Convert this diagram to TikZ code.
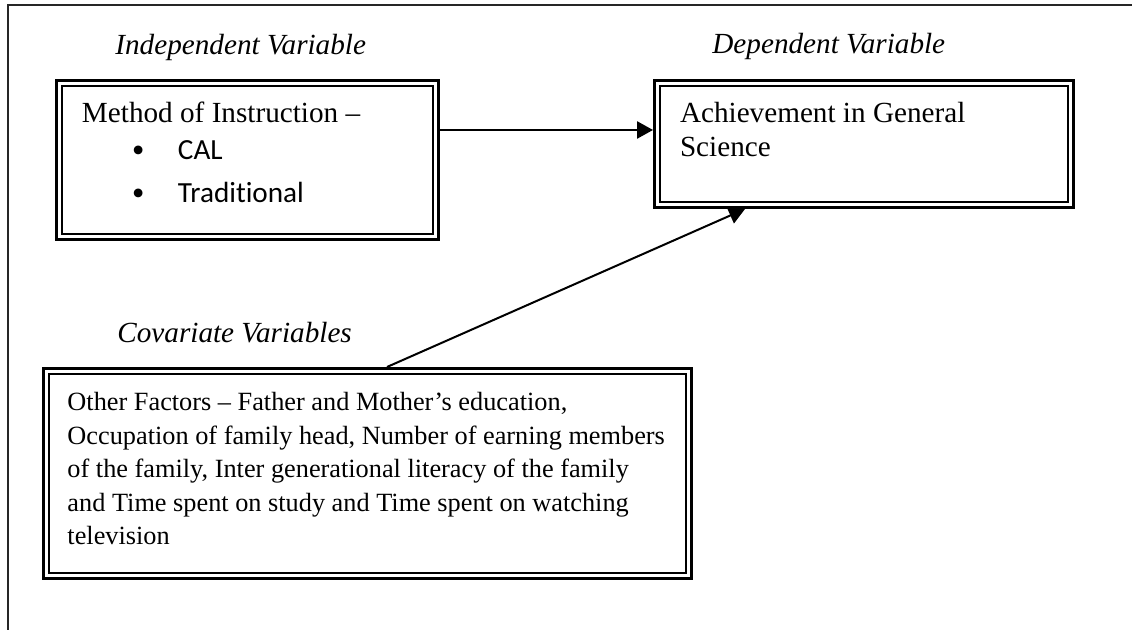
\documentclass[tikz,border=0pt]{standalone}
\usepackage{fontspec}
\setmainfont{Liberation Serif}
\newfontfamily\calfont{Carlito}[Ligatures={NoCommon}]
\usetikzlibrary{arrows.meta}

% top-aligned text block of fixed size inside a box
\newcommand{\topbox}[3]{\parbox[c][#2][t]{#1}{\raggedright #3}}
\newcommand{\bul}{\hspace*{25pt}\makebox[23pt][l]{\rmfamily\raisebox{-1.6pt}{\scalebox{1.25}{•}}}}

\begin{document}
\begin{tikzpicture}[x=0.5pt,y=-0.5pt]
            \tikzstyle{box}=[draw=black, line width=1.3pt, double, double distance=1.5pt, outer sep=2.05pt, inner xsep=11.45pt, inner ysep=9.45pt, font=\fontsize{14.6}{18.5}\selectfont]
            \tikzstyle{heading}=[anchor=base west, inner sep=0pt, font=\fontsize{14.6}{17}\selectfont\itshape]
            \tikzstyle{edge}=[black, line width=1pt, -{Triangle[length=8pt, width=8.6pt]}]

            \useasboundingbox (0,0) rectangle (1132,630);
            \draw[line width=0.6pt, black!85] (1132,5) -- (8,5) -- (8,630);

            \node[heading] (indep) at (115,55) {Independent Variable};
            \node[heading] (dep) at (712,54) {Dependent Variable};
            \node[heading] (cov) at (117,343) {Covariate Variables};

            \node[box] (meth) at (247.5,160) {\topbox{165.5pt}{58pt}{Method of Instruction –\\
                {\calfont\bul CAL}\\[3pt]
                {\calfont\bul Traditional}}};
            \node[box] (ach) at (864,144) {\topbox{184pt}{42pt}{Achievement in General\\[-1.3pt] Science}};
            \node[box, inner xsep=10.7pt, inner ysep=10.8pt, font=\fontsize{13.15}{16.75}\selectfont] (other) at (367.5,473.5) {\topbox{300pt}{80.8pt}{Other Factors – Father and Mother’s education,\\
                Occupation of family head, Number of earning members\\
                of the family, Inter generational literacy of the family\\
                and Time spent on study and Time spent on watching\\
                television}};

            \draw[edge] ([yshift=15pt]meth.east) -- ([yshift=7pt]ach.west);
            \draw[edge] ([xshift=9.75pt]other.north) -- ([xshift=-59.5pt]ach.south);
\end{tikzpicture}
\end{document}
